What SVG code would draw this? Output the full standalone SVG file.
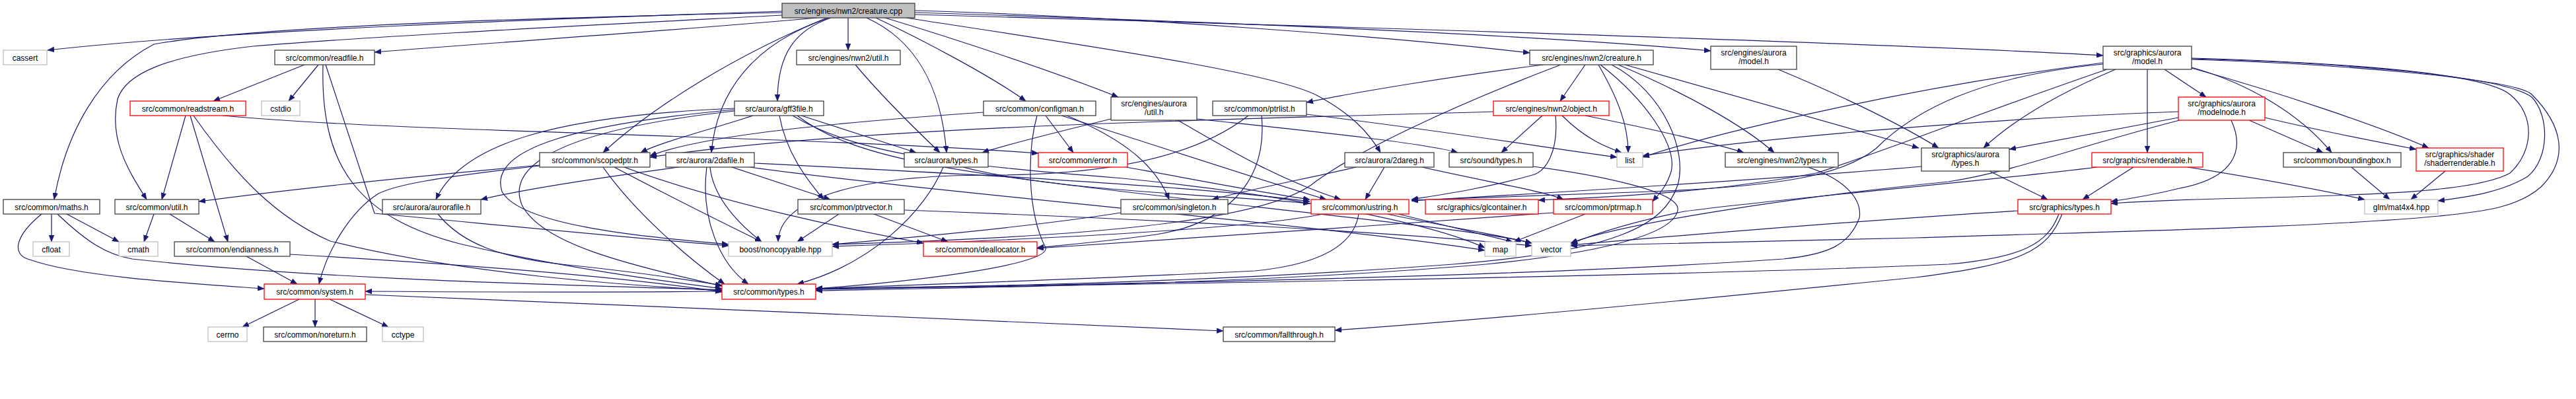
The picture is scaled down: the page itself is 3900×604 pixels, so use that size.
<svg xmlns="http://www.w3.org/2000/svg" width="3900" height="604" viewBox="0 0 3900 604">
<style>
rect{fill:#fff;stroke:#404040;stroke-width:1.3}
.r rect{stroke:#ff0000}
.g rect{stroke:#bfbfbf}
.root rect{fill:#bfbfbf}
text{font-family:"Liberation Sans",Arial,Helvetica,sans-serif;font-size:12px;fill:#000;text-anchor:middle}
#edges path{fill:none;stroke:#191970;stroke-width:1.2;marker-end:url(#ah)}
</style>
<defs>
<marker id="ah" viewBox="0 0 10 8" refX="10" refY="4" markerWidth="10" markerHeight="8" orient="auto" markerUnits="userSpaceOnUse"><path d="M0,0L10,4L0,8z" fill="#191970" stroke="#191970" stroke-width="0.5"/></marker>
</defs>
<rect x="0" y="0" width="3900" height="604" style="fill:#fff;stroke:none"/>
<g id="edges">
<path d="M1184,17 C850,28 350,45 72,76"/>
<path d="M1184,19 C800,27 380,40 233,67 C150,110 100,200 82,302"/>
<path d="M1184,23 C900,38 560,55 383,70 C250,85 190,112 178,150 C165,210 192,255 222,302"/>
<path d="M1237,27 C1000,48 780,62 567,79"/>
<path d="M1252,27 C1120,80 990,160 913,231"/>
<path d="M1256,27 C1140,65 1085,140 1077,231"/>
<path d="M1258,27 C1205,45 1177,80 1177,153"/>
<path d="M1284,27 L1284,76"/>
<path d="M1312,27 C1385,60 1425,130 1433,231"/>
<path d="M1326,27 C1400,62 1500,115 1553,153"/>
<path d="M1340,27 C1450,60 1600,110 1693,147"/>
<path d="M1372,27 C1650,70 1930,110 1995,145 C2045,172 2072,200 2090,231"/>
<path d="M1385,16 C1700,25 2100,55 2316,80"/>
<path d="M1385,19 C1900,35 2350,55 2590,77"/>
<path d="M1385,22 C2200,45 2900,68 3184,84"/>
<path d="M461,98 L323,153"/>
<path d="M482,98 L437,153"/>
<path d="M493,98 L567,323 C750,340 950,360 1103,372"/>
<path d="M489,98 C485,250 540,330 700,370 C850,405 1000,425 1093,437"/>
<path d="M281,175 L245,302"/>
<path d="M288,175 L345,366"/>
<path d="M293,175 C360,270 420,330 500,365 C700,415 950,432 1093,440"/>
<path d="M337,175 C600,200 1200,205 1572,232"/>
<path d="M78,324 L78,366"/>
<path d="M101,324 L180,366"/>
<path d="M63,324 C25,355 15,385 45,393 C120,420 300,430 400,437"/>
<path d="M87,324 C130,365 160,385 200,392 C500,425 900,432 1093,439"/>
<path d="M233,324 L218,366"/>
<path d="M257,324 L325,366"/>
<path d="M373,388 L450,430"/>
<path d="M439,385 C700,400 950,420 1093,442"/>
<path d="M453,453 L367,495"/>
<path d="M477,453 L477,495"/>
<path d="M499,453 L588,495"/>
<path d="M553,446 C900,460 1500,485 1852,501"/>
<path d="M817,250 C650,265 450,285 301,305"/>
<path d="M817,251 C650,270 600,280 573,293 C530,320 495,380 483,430"/>
<path d="M930,253 C1000,290 1100,340 1153,366"/>
<path d="M913,253 C960,320 1040,390 1097,430"/>
<path d="M945,253 C1100,310 1300,350 1398,368"/>
<path d="M1140,175 C1080,195 1000,215 970,231"/>
<path d="M1112,164 C850,175 700,215 660,302"/>
<path d="M1112,166 C850,190 740,230 760,290 C790,345 1000,360 1103,370"/>
<path d="M1112,168 C820,200 770,260 790,310 C820,370 950,400 1093,433"/>
<path d="M1180,175 C1190,230 1220,270 1247,302"/>
<path d="M1213,175 L1387,231"/>
<path d="M1207,175 C1290,240 1450,260 1700,290 C2000,325 2250,350 2319,368"/>
<path d="M1200,175 C1300,235 1450,250 1700,270 C1900,290 2150,330 2248,375"/>
<path d="M1028,253 C900,270 800,285 728,302"/>
<path d="M1075,253 C1080,300 1120,340 1153,366"/>
<path d="M1070,253 C1060,330 1090,400 1133,430"/>
<path d="M1108,253 L1257,302"/>
<path d="M1142,247 C1400,260 1800,280 1983,305"/>
<path d="M1135,253 C1400,290 2000,340 2248,379"/>
<path d="M1270,324 L1207,366"/>
<path d="M1323,324 L1435,366"/>
<path d="M1369,318 C1700,330 2100,350 2319,372"/>
<path d="M1428,253 C1400,320 1320,400 1207,430"/>
<path d="M1458,253 C1600,290 1850,295 1983,308"/>
<path d="M1489,170 C1200,190 1050,210 984,236"/>
<path d="M1583,175 L1625,231"/>
<path d="M1615,175 C1700,210 1750,250 1770,302"/>
<path d="M1607,175 C1750,220 1900,270 2008,302"/>
<path d="M1570,175 C1555,230 1555,320 1583,375 C1590,400 1400,425 1235,437"/>
<path d="M1682,180 C1600,200 1520,220 1487,231"/>
<path d="M1783,182 C1850,220 1930,270 2030,302"/>
<path d="M1812,180 C1950,195 2150,215 2207,231"/>
<path d="M1890,175 C1820,230 1700,265 1500,265 C1300,265 1180,300 1178,366"/>
<path d="M1910,175 C1920,280 1850,340 1750,355 C1680,365 1620,370 1570,375"/>
<path d="M1978,173 C2200,200 2350,225 2448,238"/>
<path d="M2096,253 L2067,302"/>
<path d="M2053,253 C1980,270 1900,285 1835,302"/>
<path d="M2153,253 C2250,275 2340,290 2367,302"/>
<path d="M2321,252 C2420,265 2545,290 2540,318 C2535,350 2450,380 2250,400 C1900,430 1500,435 1235,440"/>
<path d="M2261,169 C1900,180 1300,190 984,238"/>
<path d="M2335,175 L2273,231"/>
<path d="M2355,175 C2360,230 2340,260 2320,265 C2250,285 2180,295 2137,302"/>
<path d="M2365,175 C2400,210 2430,222 2455,231"/>
<path d="M2400,175 C2500,195 2600,218 2640,231"/>
<path d="M2400,98 L2362,153"/>
<path d="M2337,98 C2200,115 2050,140 1978,155"/>
<path d="M2363,98 C2200,160 2050,230 1985,280 C1900,340 1600,360 1260,370"/>
<path d="M2420,98 C2450,150 2465,190 2465,231"/>
<path d="M2423,98 C2490,150 2540,220 2530,260 C2522,285 2510,295 2502,305"/>
<path d="M2440,98 C2520,140 2555,230 2540,280 C2520,340 2450,380 2200,400 C1800,430 1400,435 1235,437"/>
<path d="M2450,98 C2550,140 2640,190 2686,231"/>
<path d="M2460,98 L2905,224"/>
<path d="M2692,105 C2800,150 2880,190 2935,224"/>
<path d="M3203,105 C3120,140 3050,180 3003,224"/>
<path d="M3251,105 L3251,231"/>
<path d="M3277,105 L3340,147"/>
<path d="M3184,95 C2900,130 2600,200 2487,238"/>
<path d="M3184,97 C3000,115 2900,165 2840,225 C2790,265 2700,282 2500,290 C2300,297 2200,300 2137,303"/>
<path d="M3190,105 C3000,170 2850,230 2750,262 C2600,290 2450,298 2329,303"/>
<path d="M3318,102 C3400,125 3480,170 3530,231"/>
<path d="M3318,103 C3450,140 3600,190 3677,224"/>
<path d="M3318,88 C3550,95 3760,110 3800,143 C3840,175 3835,230 3800,262 C3750,290 3600,295 3400,300 C3300,302 3240,305 3196,308"/>
<path d="M3318,89 C3550,95 3790,115 3833,147 C3860,175 3860,240 3827,267 C3790,290 3740,298 3691,304"/>
<path d="M3318,90 C3550,97 3810,120 3833,143 C3880,190 3890,240 3847,283 C3810,315 3760,320 3693,327 C3500,345 3200,350 2900,360 C2600,368 2450,370 2378,372"/>
<path d="M3298,169 C3000,180 2650,210 2487,236"/>
<path d="M3298,178 L3042,226"/>
<path d="M3300,182 C3150,220 3050,260 2950,275 C2700,300 2450,340 2378,368"/>
<path d="M3378,182 C3400,230 3380,270 3300,285 C3260,295 3230,300 3196,305"/>
<path d="M3405,182 L3517,231"/>
<path d="M3429,178 C3500,195 3600,215 3658,226"/>
<path d="M3230,253 L3153,302"/>
<path d="M3312,253 C3420,270 3500,285 3580,302"/>
<path d="M3175,253 C3000,275 2700,300 2550,320 C2450,340 2400,360 2378,369"/>
<path d="M3012,259 L3100,302"/>
<path d="M2909,252 C2700,270 2350,292 2137,304"/>
<path d="M3055,319 C2800,335 2500,360 2378,371"/>
<path d="M3117,324 C3100,370 3060,390 2950,400 C2500,420 1600,432 1235,438"/>
<path d="M3122,324 C3100,380 3060,400 2900,420 C2600,450 2300,480 2021,500"/>
<path d="M3702,259 L3650,302"/>
<path d="M3560,253 L3618,302"/>
<path d="M1705,253 C1800,270 1900,290 1983,302"/>
<path d="M1697,322 C1550,345 1350,362 1260,370"/>
<path d="M2117,324 L2290,366"/>
<path d="M2057,324 C2050,370 2000,400 1900,410 C1600,425 1350,432 1235,437"/>
<path d="M2003,324 C1900,345 1600,362 1260,373"/>
<path d="M2100,324 C2200,345 2280,358 2319,368"/>
<path d="M2400,324 L2292,366"/>
<path d="M2352,322 C2100,340 1750,365 1570,376"/>
<path d="M2737,253 C2790,270 2820,300 2815,330 C2800,370 2770,385 2700,392 C2300,420 1600,432 1235,437"/>
<path d="M1295,98 C1330,140 1380,190 1423,231"/>
<path d="M663,324 C700,370 760,390 850,400 C950,410 1050,425 1093,432"/>
<path d="M1093,441 C900,443 700,442 553,441"/>
</g>
<g id="n_root" class="root"><rect x="1184" y="5" width="201" height="22"/><text x="1284.5" y="20.5">src/engines/nwn2/creature.cpp</text></g>
<g id="n_cassert" class="g"><rect x="5" y="76" width="66" height="22"/><text x="38" y="91.5">cassert</text></g>
<g id="n_readfile"><rect x="416" y="76" width="151" height="22"/><text x="491.5" y="91.5">src/common/readfile.h</text></g>
<g id="n_nwn2util"><rect x="1206" y="76" width="157" height="22"/><text x="1284.5" y="91.5">src/engines/nwn2/util.h</text></g>
<g id="n_creatureh"><rect x="2316" y="76" width="187" height="22"/><text x="2409.5" y="91.5">src/engines/nwn2/creature.h</text></g>
<g id="n_eamodel"><rect x="2590" y="70" width="130" height="35"/><text x="2655" y="84">src/engines/aurora</text><text x="2655" y="97">/model.h</text></g>
<g id="n_gamodel"><rect x="3184" y="70" width="134" height="35"/><text x="3251" y="84">src/graphics/aurora</text><text x="3251" y="97">/model.h</text></g>
<g id="n_readstream" class="r"><rect x="197" y="153" width="175" height="22"/><text x="284.5" y="168.5">src/common/readstream.h</text></g>
<g id="n_cstdio" class="g"><rect x="396" y="153" width="58" height="22"/><text x="425" y="168.5">cstdio</text></g>
<g id="n_gff3"><rect x="1112" y="153" width="135" height="22"/><text x="1179.5" y="168.5">src/aurora/gff3file.h</text></g>
<g id="n_configman"><rect x="1489" y="153" width="170" height="22"/><text x="1574" y="168.5">src/common/configman.h</text></g>
<g id="n_eautil"><rect x="1682" y="147" width="130" height="35"/><text x="1747" y="161">src/engines/aurora</text><text x="1747" y="174">/util.h</text></g>
<g id="n_ptrlist"><rect x="1836" y="153" width="142" height="22"/><text x="1907" y="168.5">src/common/ptrlist.h</text></g>
<g id="n_object" class="r"><rect x="2261" y="153" width="175" height="22"/><text x="2348.5" y="168.5">src/engines/nwn2/object.h</text></g>
<g id="n_modelnode" class="r"><rect x="3298" y="147" width="131" height="35"/><text x="3363.5" y="161">src/graphics/aurora</text><text x="3363.5" y="174">/modelnode.h</text></g>
<g id="n_scopedptr"><rect x="817" y="231" width="167" height="22"/><text x="900.5" y="246.5">src/common/scopedptr.h</text></g>
<g id="n_2dafile"><rect x="1008" y="231" width="134" height="22"/><text x="1075" y="246.5">src/aurora/2dafile.h</text></g>
<g id="n_atypes"><rect x="1369" y="231" width="127" height="22"/><text x="1432.5" y="246.5">src/aurora/types.h</text></g>
<g id="n_error" class="r"><rect x="1572" y="231" width="135" height="22"/><text x="1639.5" y="246.5">src/common/error.h</text></g>
<g id="n_2dareg"><rect x="2036" y="231" width="135" height="22"/><text x="2103.5" y="246.5">src/aurora/2dareg.h</text></g>
<g id="n_soundtypes"><rect x="2194" y="231" width="127" height="22"/><text x="2257.5" y="246.5">src/sound/types.h</text></g>
<g id="n_list" class="g"><rect x="2448" y="231" width="39" height="22"/><text x="2467.5" y="246.5">list</text></g>
<g id="n_nwn2types"><rect x="2612" y="231" width="171" height="22"/><text x="2697.5" y="246.5">src/engines/nwn2/types.h</text></g>
<g id="n_gatypes"><rect x="2909" y="224" width="133" height="35"/><text x="2975.5" y="238">src/graphics/aurora</text><text x="2975.5" y="251">/types.h</text></g>
<g id="n_renderable" class="r"><rect x="3167" y="231" width="168" height="22"/><text x="3251" y="246.5">src/graphics/renderable.h</text></g>
<g id="n_boundingbox"><rect x="3457" y="231" width="178" height="22"/><text x="3546" y="246.5">src/common/boundingbox.h</text></g>
<g id="n_shaderrend" class="r"><rect x="3658" y="224" width="132" height="35"/><text x="3724" y="238">src/graphics/shader</text><text x="3724" y="251">/shaderrenderable.h</text></g>
<g id="n_maths"><rect x="5" y="302" width="146" height="22"/><text x="78" y="317.5">src/common/maths.h</text></g>
<g id="n_util"><rect x="174" y="302" width="127" height="22"/><text x="237.5" y="317.5">src/common/util.h</text></g>
<g id="n_aurorafile"><rect x="579" y="302" width="149" height="22"/><text x="653.5" y="317.5">src/aurora/aurorafile.h</text></g>
<g id="n_ptrvector"><rect x="1208" y="302" width="161" height="22"/><text x="1288.5" y="317.5">src/common/ptrvector.h</text></g>
<g id="n_singleton"><rect x="1697" y="302" width="162" height="22"/><text x="1778" y="317.5">src/common/singleton.h</text></g>
<g id="n_ustring" class="r"><rect x="1985" y="302" width="148" height="22"/><text x="2059" y="317.5">src/common/ustring.h</text></g>
<g id="n_glcontainer" class="r"><rect x="2158" y="302" width="171" height="22"/><text x="2243.5" y="317.5">src/graphics/glcontainer.h</text></g>
<g id="n_ptrmap" class="r"><rect x="2352" y="302" width="150" height="22"/><text x="2427" y="317.5">src/common/ptrmap.h</text></g>
<g id="n_gtypes" class="r"><rect x="3055" y="302" width="141" height="22"/><text x="3125.5" y="317.5">src/graphics/types.h</text></g>
<g id="n_mat4" class="g"><rect x="3580" y="302" width="111" height="22"/><text x="3635.5" y="317.5">glm/mat4x4.hpp</text></g>
<g id="n_cfloat" class="g"><rect x="50" y="366" width="55" height="22"/><text x="77.5" y="381.5">cfloat</text></g>
<g id="n_cmath" class="g"><rect x="180" y="366" width="59" height="22"/><text x="209.5" y="381.5">cmath</text></g>
<g id="n_endianness"><rect x="264" y="366" width="175" height="22"/><text x="351.5" y="381.5">src/common/endianness.h</text></g>
<g id="n_noncopyable" class="g"><rect x="1103" y="366" width="157" height="22"/><text x="1181.5" y="381.5">boost/noncopyable.hpp</text></g>
<g id="n_deallocator" class="r"><rect x="1398" y="366" width="172" height="22"/><text x="1484" y="381.5">src/common/deallocator.h</text></g>
<g id="n_map" class="g"><rect x="2248" y="366" width="47" height="22"/><text x="2271.5" y="381.5">map</text></g>
<g id="n_vector" class="g"><rect x="2319" y="366" width="59" height="22"/><text x="2348.5" y="381.5">vector</text></g>
<g id="n_system" class="r"><rect x="400" y="430" width="153" height="23"/><text x="476.5" y="446">src/common/system.h</text></g>
<g id="n_types" class="r"><rect x="1093" y="430" width="142" height="23"/><text x="1164" y="446">src/common/types.h</text></g>
<g id="n_cerrno" class="g"><rect x="315" y="495" width="59" height="22"/><text x="344.5" y="510.5">cerrno</text></g>
<g id="n_noreturn"><rect x="399" y="495" width="156" height="22"/><text x="477" y="510.5">src/common/noreturn.h</text></g>
<g id="n_cctype" class="g"><rect x="579" y="495" width="62" height="22"/><text x="610" y="510.5">cctype</text></g>
<g id="n_fallthrough"><rect x="1852" y="495" width="169" height="22"/><text x="1936.5" y="510.5">src/common/fallthrough.h</text></g>
</svg>
